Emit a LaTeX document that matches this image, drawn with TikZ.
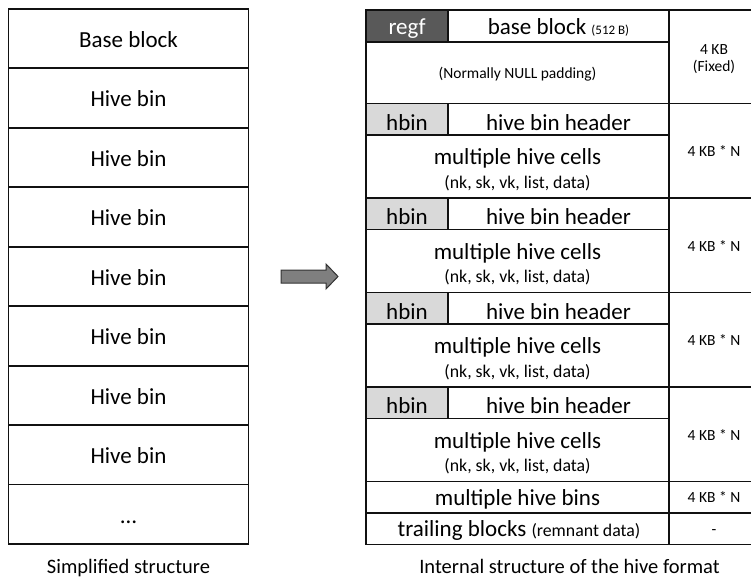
\documentclass[tikz,border=0pt]{standalone}
\usepackage{fontspec}
\setmainfont{Carlito}
\usetikzlibrary{calc}
\definecolor{regfgray}{HTML}{595959}
\definecolor{hbingray}{HTML}{D9D9D9}
\definecolor{linec}{HTML}{111111}
\definecolor{arrowfill}{HTML}{7F7F7F}
\definecolor{arrowline}{HTML}{333333}
\newcommand{\fsBig}{\fontsize{23}{27}\selectfont}
\newcommand{\fsCap}{\fontsize{20.5}{24}\selectfont}
\newcommand{\fsMid}{\fontsize{17.8}{21}\selectfont}
\newcommand{\fsSml}{\fontsize{15.5}{18}\selectfont}
\newcommand{\fsTny}{\fontsize{13}{15}\selectfont}
\begin{document}
\begin{tikzpicture}[x=1pt,y=-1pt,
  cellbox/.style={draw=linec, line width=1.9pt, rectangle, inner sep=0pt, outer sep=0pt, anchor=north west},
  txt/.style={anchor=base, inner sep=0pt, outer sep=0pt, text=black}]
\useasboundingbox (0,0) rectangle (751,578);

% ---------- left: simplified structure ----------
\foreach \i/\t in {1/Base block,2/Hive bin,3/Hive bin,4/Hive bin,5/Hive bin,6/Hive bin,7/Hive bin,8/Hive bin,9/\ldots} {
  \pgfmathsetmacro{\ty}{9+59.44*(\i-1)}
  \node[cellbox, minimum width=240pt, minimum height=59.44pt] (L\i) at (8.5,\ty) {};
  \node[txt, font=\fsBig] (Lt\i) at ($(L\i.north)+(0,38.5)$) {\t};
}
\node[txt, font=\fsCap] (capL) at (128.5,573) {Simplified structure};

% ---------- arrow ----------
\filldraw[fill=arrowfill, draw=arrowline, line width=1pt]
  (281,270) -- (326,270) -- (326,264) -- (338,276.5) -- (326,289) -- (326,283) -- (281,283) -- cycle;

% ---------- right: internal structure ----------
\node[cellbox, fill=regfgray, minimum width=82pt, minimum height=32pt] (regf) at (366,10) {};
\node[txt, font=\fsBig, text=white] (regft) at ($(regf.north)+(0,25)$) {regf};
\node[cellbox, minimum width=221pt, minimum height=32pt] (bb) at (448,10) {};
\node[txt, font=\fsBig] (bbt) at ($(bb.north)+(0,25)$) {base block {\fsTny(512 B)}};
\node[cellbox, minimum width=303pt, minimum height=61.5pt] (pad) at (366,42) {};
\node[txt, font=\fsSml] (padt) at ($(pad.north)+(0,36.3)$) {(Normally NULL padding)};
\node[cellbox, minimum width=90pt, minimum height=93.5pt] (sz) at (669,10) {};
\node[txt, font=\fsSml] (sza) at ($(sz.north)+(0,44)$) {4 KB};
\node[txt, font=\fsSml] (szf) at ($(sz.north)+(0,61.7)$) {(Fixed)};

\foreach \k in {0,1,2,3} {
  \pgfmathsetmacro{\bt}{103.5+94.5*\k}
  \pgfmathsetmacro{\bc}{\bt+31.5}
  \node[cellbox, fill=hbingray, minimum width=82pt, minimum height=31.5pt] (hb\k) at (366,\bt) {};
  \node[txt, font=\fsBig] (hbt\k) at ($(hb\k.north)+(0,26.5)$) {hbin};
  \node[cellbox, minimum width=221pt, minimum height=31.5pt] (hh\k) at (448,\bt) {};
  \node[txt, font=\fsBig] (hht\k) at ($(hh\k.north)+(0,26.5)$) {hive bin header};
  \node[cellbox, minimum width=303pt, minimum height=63pt] (mc\k) at (366,\bc) {};
  \node[txt, font=\fsBig] (mct\k) at ($(mc\k.north)+(0,29.7)$) {multiple hive cells};
  \node[txt, font=\fsMid] (mcs\k) at ($(mc\k.north)+(0,53)$) {(nk, sk, vk, list, data)};
  \node[cellbox, minimum width=90pt, minimum height=94.5pt] (szb\k) at (669,\bt) {};
  \node[txt, font=\fsSml] (szt\k) at ($(szb\k.center)+(0,6)$) {4 KB * N};
}

\node[cellbox, minimum width=303pt, minimum height=31.5pt] (mb) at (366,481.5) {};
\node[txt, font=\fsBig] (mbt) at ($(mb.north)+(0,23.5)$) {multiple hive bins};
\node[cellbox, minimum width=90pt, minimum height=31.5pt] (szm) at (669,481.5) {};
\node[txt, font=\fsSml] (szmt) at ($(szm.north)+(0,20.5)$) {4 KB * N};

\node[cellbox, minimum width=303pt, minimum height=31.5pt] (tb) at (366,513) {};
\node[txt, font=\fsBig] (tbt) at ($(tb.north)+(1.5,23.7)$) {trailing blocks {\fsMid(remnant data)}};
\node[cellbox, minimum width=90pt, minimum height=31.5pt] (szr) at (669,513) {};
\node[txt, font=\fsSml] (szrt) at ($(szr.north)+(0,21)$) {-};

\node[txt, font=\fsCap] (capR) at (569.5,573) {Internal structure of the hive format};
\end{tikzpicture}
\end{document}
